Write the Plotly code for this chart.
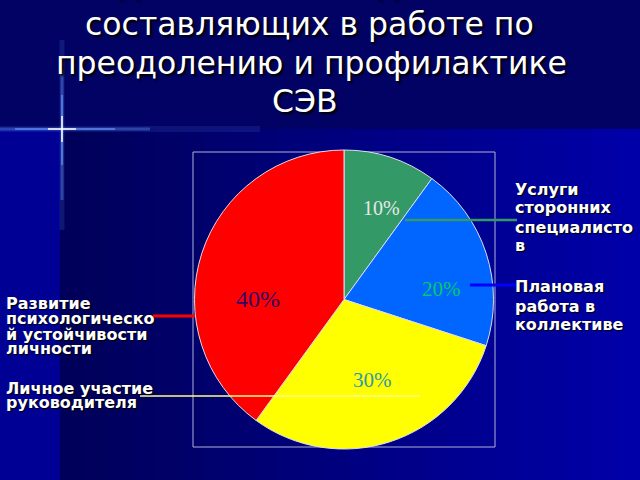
import math
import plotly.graph_objects as go

# data
categories = [
    "Услуги сторонних специалистов",
    "Плановая работа в коллективе",
    "Личное участие руководителя",
    "Развитие психологической устойчивости личности",
]
values = [10, 20, 30, 40]
slice_colors = ["#339966", "#0066FF", "#FFFF00", "#FF0000"]
label_colors = ["#E8E8E8", "#00CC66", "#3399AA", "#330066"]

title_lines = ["Удельный вес отдельных", "составляющих в работе по",
               "преодолению и профилактике", "СЭВ"]

W, H = 640, 480
# pie box in pixels
BX0, BX1, BY0, BY1 = 193, 495, 152, 447


def px(x):
    return x / W


def py(y):
    return 1 - y / H


fig = go.Figure()

fig.add_trace(go.Pie(
    labels=categories,
    values=values,
    sort=False,
    direction="clockwise",
    rotation=0,
    marker=dict(colors=slice_colors, line=dict(color="#DDDDEE", width=1)),
    textinfo="none",
    hoverinfo="label+percent",
    showlegend=False,
    domain=dict(x=[px(BX0), px(BX1)], y=[py(BY1 + 2), py(BY0 - 2)]),
))

shapes = []

# background
shapes.append(dict(type="rect", xref="paper", yref="paper", x0=0, x1=1, y0=0, y1=1,
                   fillcolor="#000080", line_width=0, layer="below"))
n = 24
for i in range(n):
    t = i / (n - 1)
    b = int(0x5A + (0xA8 - 0x5A) * t)
    x0 = 60 + (640 - 60) * i / n
    x1 = 60 + (640 - 60) * (i + 1) / n + 1
    shapes.append(dict(type="rect", xref="paper", yref="paper",
                       x0=px(x0), x1=px(min(x1, 640)), y0=0, y1=py(129),
                       fillcolor="rgb(0,0,%d)" % b, line_width=0, layer="below"))
shapes.append(dict(type="rect", xref="paper", yref="paper", x0=0, x1=px(60), y0=0, y1=py(129),
                   fillcolor="#000094", line_width=0, layer="below"))
shapes.append(dict(type="rect", xref="paper", yref="paper", x0=0, x1=1, y0=py(129), y1=1,
                   fillcolor="#020264", line_width=0, layer="below"))

# star
for w, op, xa, xb in [(6, 0.12, 0, 260), (3, 0.35, 0, 150), (1.5, 0.8, 15, 115)]:
    shapes.append(dict(type="line", xref="paper", yref="paper", x0=px(xa), x1=px(xb),
                       y0=py(129), y1=py(129), line=dict(color="#6699FF", width=w),
                       opacity=op, layer="below"))
for w, op, ya, yb in [(5, 0.15, 40, 230), (3, 0.35, 70, 200), (1.5, 0.8, 95, 165)]:
    shapes.append(dict(type="line", xref="paper", yref="paper", x0=px(62), x1=px(62),
                       y0=py(ya), y1=py(yb), line=dict(color="#6699FF", width=w),
                       opacity=op, layer="below"))
shapes.append(dict(type="line", xref="paper", yref="paper", x0=px(48), x1=px(76),
                   y0=py(129), y1=py(129), line=dict(color="#FFFFFF", width=1.5)))
shapes.append(dict(type="line", xref="paper", yref="paper", x0=px(62), x1=px(62),
                   y0=py(116), y1=py(142), line=dict(color="#FFFFFF", width=1.5)))

# plot box
shapes.append(dict(type="rect", xref="paper", yref="paper",
                   x0=px(BX0), x1=px(BX1), y0=py(BY1), y1=py(BY0),
                   line=dict(color="#B0B0D8", width=1), layer="below"))

# leader lines
leaders = [
    (405, 517, 220, "#339966", 2.5),
    (470, 517, 285, "#0000FF", 3),
    (140, 420, 396, "#FFFF88", 1.5),
    (153, 195, 316, "#FF0000", 3),
]
for xa, xb, y, c, w in leaders:
    shapes.append(dict(type="line", xref="paper", yref="paper", x0=px(xa), x1=px(xb),
                       y0=py(y), y1=py(y), line=dict(color=c, width=w)))

fig.update_layout(shapes=shapes)

annotations = []

# percent labels placed from the slice angles
cx, cy = (BX0 + BX1) / 2, (BY0 + BY1) / 2
R = min(BX1 - BX0, BY1 - BY0) / 2
label_r = [0.67, 0.665, 0.575, 0.585]
label_turn = [4.0, 12.0, -1.3, -17.7]
label_size = [20, 21, 21, 24]
total = sum(values)
start = 0.0
for v, c, f, d, s in zip(values, label_colors, label_r, label_turn, label_size):
    mid = (start + v / 2) / total * 360 + d
    start += v
    a = math.radians(mid)
    lx = cx + R * f * math.sin(a)
    ly = cy - R * f * math.cos(a)
    annotations.append(dict(x=px(lx), y=py(ly), xref="paper", yref="paper",
                            xanchor="center", yanchor="middle",
                            text="%d%%" % round(v / total * 100), showarrow=False,
                            font=dict(family="Liberation Serif", size=s, color=c)))

side_font = dict(family="DejaVu Sans", size=16, color="#FFFFFF",
                 shadow="1px 1px 1px #000000", weight="bold")
side_lines = [
    (513, [189.5, 207.5, 227.5, 245.5], ["Услуги", "сторонних", "специалисто", "в"]),
    (513, [286.5, 306.5, 324.5], ["Плановая", "работа в", "коллективе"]),
    (4, [303.5, 318.5, 334.5, 348.5], ["Развитие", "психологическо", "й устойчивости", "личности"]),
    (4, [388.5, 402.5], ["Личное участие", "руководителя"]),
]
for x, ys, texts in side_lines:
    for y, t in zip(ys, texts):
        annotations.append(dict(x=px(x), y=py(y), xref="paper", yref="paper",
                                xanchor="left", yanchor="middle", text=t,
                                showarrow=False, font=side_font))

title_font = dict(family="DejaVu Sans", size=31.5, color="#FFFFFF", shadow="2px 2px 2px #000000")
for x, y, t in zip([309, 309, 311, 305], [-16, 24.5, 62.5, 101.5], title_lines):
    annotations.append(dict(x=px(x), y=py(y), xref="paper", yref="paper",
                            xanchor="center", yanchor="middle", text=t,
                            showarrow=False, font=title_font))

fig.update_layout(
    annotations=annotations,
    width=W, height=H,
    margin=dict(l=0, r=0, t=0, b=0),
    paper_bgcolor="#000080",
    plot_bgcolor="#000080",
)

fig.write_html("out.html", config={"displayModeBar": False},
               post_script="document.body.style.margin='0';")
